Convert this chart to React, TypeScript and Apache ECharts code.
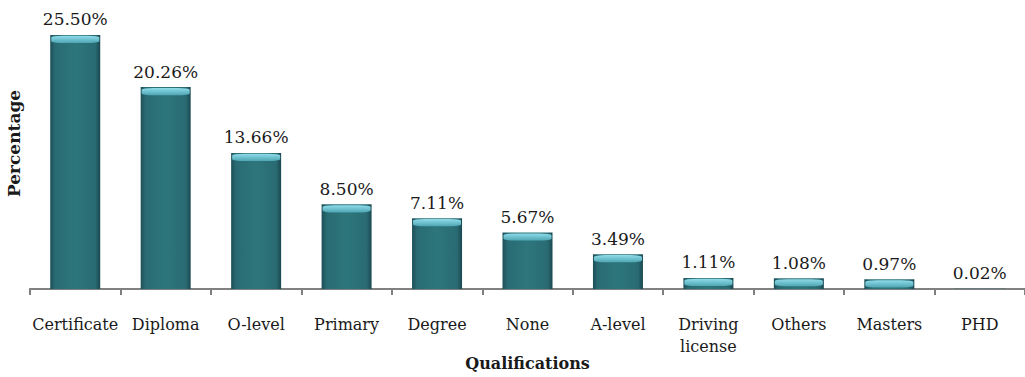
import React, { useEffect, useRef } from "react";
import * as echarts from "echarts";

const categories = ["Certificate", "Diploma", "O-level", "Primary", "Degree", "None", "A-level", "Driving\nlicense", "Others", "Masters", "PHD"];
const percentages = [25.5, 20.26, 13.66, 8.5, 7.11, 5.67, 3.49, 1.11, 1.08, 0.97, 0.02];
const xTitle = "Qualifications";
const yTitle = "Percentage";

const FONT = "'DejaVu Serif', 'Liberation Serif', serif";

export default function App() {
  const ref = useRef<HTMLDivElement>(null);
  useEffect(() => {
    document.body.style.margin = "0";
    const chart = echarts.init(ref.current!, null, { renderer: "svg" });
    chart.setOption({
      animation: false,
      backgroundColor: "#ffffff",
      grid: { left: 30, right: 0, top: 10, bottom: 88, outerBoundsMode: "none", containLabel: false },
      xAxis: {
        type: "category",
        data: categories,
        name: xTitle,
        nameLocation: "middle",
        nameGap: 66,
        nameMoveOverlap: false,
        nameTextStyle: { fontFamily: FONT, fontWeight: "bold", fontSize: 16, color: "#1a1a1a" },
        axisLine: { lineStyle: { color: "#808080", width: 2 } },
        axisTick: { show: true, alignWithLabel: false, length: 6, lineStyle: { color: "#808080", width: 2 } },
        axisLabel: { fontFamily: FONT, fontSize: 16, color: "#1a1a1a", margin: 24, lineHeight: 22, interval: 0 },
      },
      yAxis: {
        type: "value",
        min: 0,
        max: 28,
        name: yTitle,
        nameLocation: "middle",
        nameGap: 8,
        nameMoveOverlap: false,
        nameTextStyle: { fontFamily: FONT, fontWeight: "bold", fontSize: 17, color: "#1a1a1a", padding: [0, 0, 0, 12] },
        axisLine: { show: false },
        axisTick: { show: false },
        axisLabel: { show: false },
        splitLine: { show: false },
      },
      series: [
        {
          type: "bar",
          data: percentages,
          barWidth: 50,
          itemStyle: {
            color: new echarts.graphic.LinearGradient(0, 0, 1, 0, [
              { offset: 0, color: "#1d4f57" },
              { offset: 0.1, color: "#2a6b73" },
              { offset: 0.5, color: "#2d767c" },
              { offset: 0.9, color: "#2a6b73" },
              { offset: 1, color: "#1a4850" },
            ]),
          },
          label: {
            show: true,
            position: "top",
            distance: 7,
            fontFamily: FONT,
            fontSize: 17,
            color: "#1a1a1a",
            formatter: (p: any) => Number(p.value).toFixed(2) + "%",
          },
        },
        {
          type: "pictorialBar",
          data: percentages.map((v) => ({ value: v, itemStyle: { opacity: v < 0.5 ? 0 : 1 } })),
          symbol: "roundRect",
          symbolSize: [48, 7],
          symbolPosition: "end",
          symbolOffset: [0, 1],
          z: 3,
          itemStyle: {
            color: new echarts.graphic.LinearGradient(0, 0, 0, 1, [
              { offset: 0, color: "#8fdcea" },
              { offset: 1, color: "#4fa6b4" },
            ]),
          },
          label: { show: false },
          silent: true,
        },
      ],
    });
    return () => chart.dispose();
  }, []);
  return <div ref={ref} style={{ position: "absolute", left: 0, top: 0, width: 1025, height: 377 }} />;
}
